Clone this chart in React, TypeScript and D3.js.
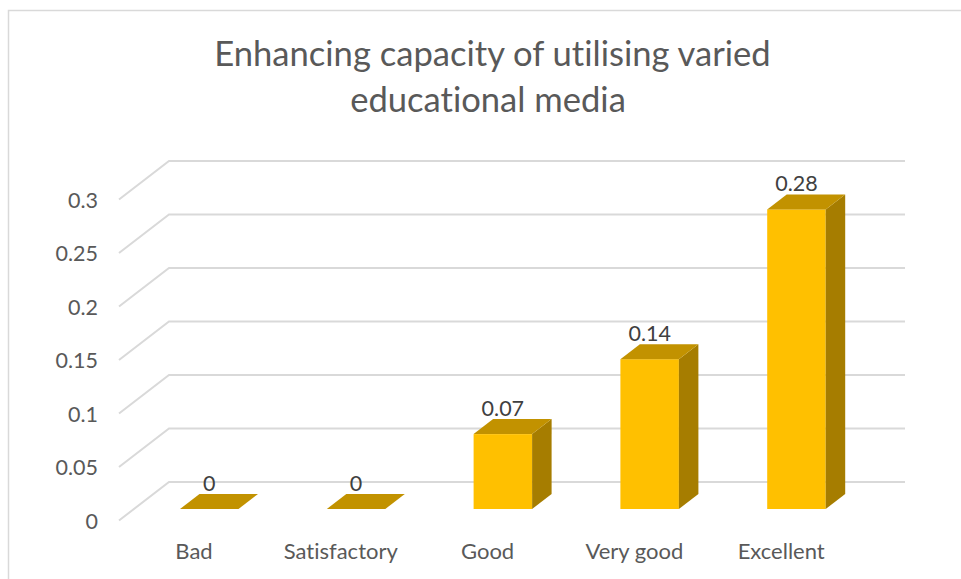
import React from "react";
import * as d3 from "d3";

const categories = ["Bad", "Satisfactory", "Good", "Very good", "Excellent"];
const values = [0, 0, 0.07, 0.14, 0.28];
const yTicks = [0, 0.05, 0.1, 0.15, 0.2, 0.25, 0.3];
const titleLines = ["Enhancing capacity of utilising varied", "educational media"];

const FONT = "Lato, Carlito, Calibri, sans-serif";
const textStyle = { fontVariantLigatures: "none" } as React.CSSProperties;

export default function App() {
  const yBar = d3.scaleLinear().domain([0, 0.3]).range([509, 188]);
  const yFront = d3.scaleLinear().domain([0, 0.3]).range([520.5, 199.5]);
  const yBack = d3.scaleLinear().domain([0, 0.3]).range([482, 161]);
  const x = d3.scaleBand<string>().domain(categories).range([180, 825.7]).paddingInner(0.6015).paddingOuter(0);
  const bw = x.bandwidth();
  const dx = 19.5;
  const dy = 15;

  return (
    <svg width={961} height={579} style={{ position: "absolute", left: 0, top: 0, background: "#fff" }}>
      <path d="M8.5 579V10.5H961" fill="none" stroke="#d9d9d9" strokeWidth={1.5} />
      {titleLines.map((t, i) => (
        <text key={t} x={i === 0 ? 492.5 : 488} y={66 + i * 46} textAnchor="middle" fontFamily={FONT} fontSize={34.6} fill="#595959" style={textStyle}>
          {t}
        </text>
      ))}
      {yTicks.map((t) => (
        <g key={t}>
          <path d={`M119 ${yFront(t)}L169 ${yBack(t)}H905`} fill="none" stroke="#d9d9d9" strokeWidth={2} />
          <text x={98} y={yFront(t) + 8} textAnchor="end" fontFamily={FONT} fontSize={21.5} fill="#595959" style={textStyle}>
            {t}
          </text>
        </g>
      ))}
      {categories.map((c, i) => {
        const v = values[i];
        const l = x(c) as number;
        const r = l + bw;
        const top = yBar(v);
        const base = yBar(0);
        return (
          <g key={c}>
            <rect x={l} y={top} width={bw} height={base - top} fill="#ffc000" />
            <path d={`M${r} ${top}L${r + dx} ${top - dy}V${base - dy}L${r} ${base}Z`} fill="#a67d00" />
            <path d={`M${l} ${top}L${l + dx} ${top - dy}H${r + dx}L${r} ${top}Z`} fill="#c29200" />
            <text x={l + bw / 2} y={top - 18} textAnchor="middle" fontFamily={FONT} fontSize={21.5} fill="#404040" style={textStyle}>
              {v}
            </text>
            <text x={l + 14} y={559} textAnchor="middle" fontFamily={FONT} fontSize={22} fill="#595959" style={textStyle}>
              {c}
            </text>
          </g>
        );
      })}
    </svg>
  );
}
